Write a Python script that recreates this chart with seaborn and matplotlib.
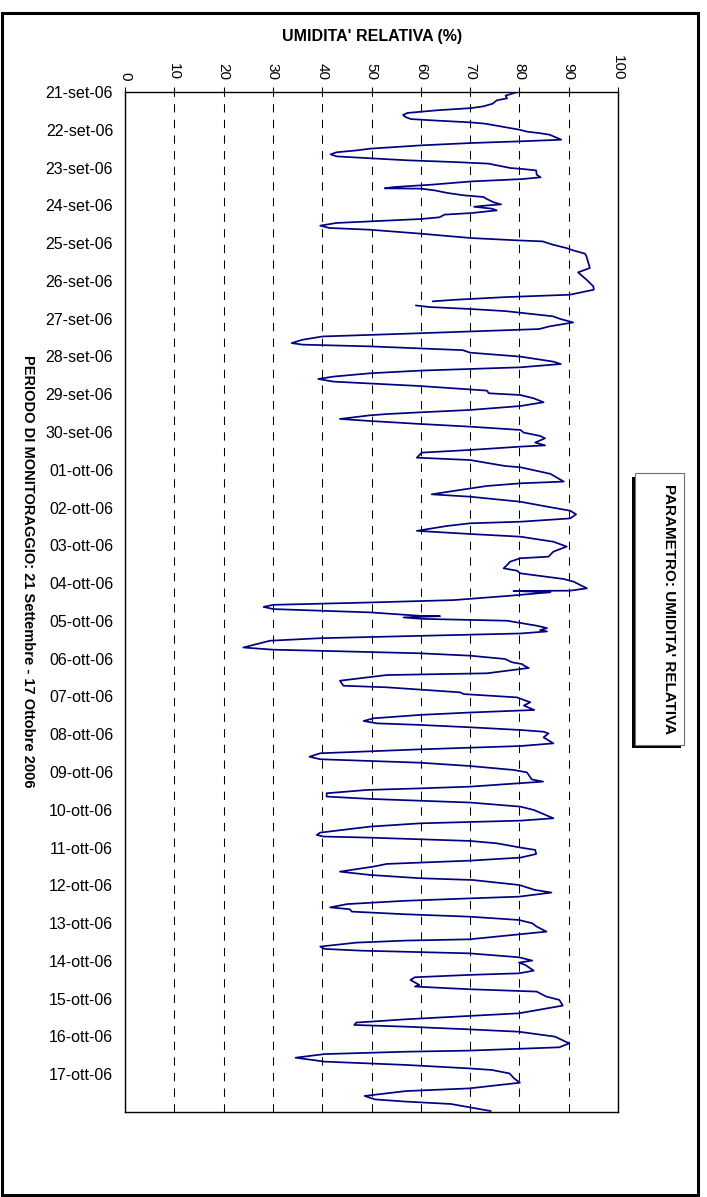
"""
Umidita' relativa - periodo di monitoraggio 21 set - 17 ott 2006.
Grafico ruotato: valori sull'asse orizzontale in alto, giorni in verticale.
"""

import matplotlib
matplotlib.use("Agg")
import matplotlib.pyplot as plt
from matplotlib.patches import Rectangle
import pandas as pd
import seaborn as sns

date_labels = [
    "21-set-06", "22-set-06", "23-set-06", "24-set-06", "25-set-06",
    "26-set-06", "27-set-06", "28-set-06", "29-set-06", "30-set-06",
    "01-ott-06", "02-ott-06", "03-ott-06", "04-ott-06", "05-ott-06",
    "06-ott-06", "07-ott-06", "08-ott-06", "09-ott-06", "10-ott-06",
    "11-ott-06", "12-ott-06", "13-ott-06", "14-ott-06", "15-ott-06",
    "16-ott-06", "17-ott-06",
]
x_ticks = [0, 10, 20, 30, 40, 50, 60, 70, 80, 90, 100]

# ore dall'inizio (21-set-06 00:00) e umidita' relativa
ore = [
    0.0, 2.3, 4.0, 5.3, 7.4, 9.1, 10.2, 11.6, 13.3, 14.6, 15.9, 17.2, 18.2,
    19.3, 20.1, 21.8, 23.9, 25.2, 26.1, 27.1, 30.3, 31.3, 32.4, 33.9, 36.0,
    37.1, 38.3, 39.6, 40.9, 42.1, 43.4, 44.5, 45.5, 48.3, 48.9, 49.8, 52.5,
    54.2, 55.3, 56.8, 58.9, 60.4, 61.2, 61.4, 62.5, 64.2, 65.7, 66.7, 68.0,
    70.1, 71.4, 72.0, 72.9, 74.1, 75.2, 76.9, 77.9, 79.6, 80.7, 82.2, 83.2,
    84.9, 86.4, 87.5, 90.0, 91.7, 92.8, 94.3, 94.9, 97.0, 99.1, 100.6, 102.7,
    104.4, 108.7, 111.8, 114.6, 119.2, 123.5, 125.6, 128.8, 130.3, 132.0,
    133.0,
    135.6, 136.6, 137.9, 139.2, 141.5, 142.5, 144.2, 146.4, 148.9, 150.6,
    152.1, 153.6, 155.3, 157.4, 159.5, 160.5, 161.6, 164.0, 165.6, 168.1,
    171.3, 172.8, 174.9, 177.0, 178.7, 180.8, 182.3, 184.0, 185.7, 186.8,
    189.7, 191.4, 192.5, 194.6, 197.1, 199.5, 202.0, 203.5, 204.6, 205.4,
    207.7, 209.0, 210.9, 212.6, 214.7, 216.4, 218.5, 220.0, 222.7, 224.5,
    225.3, 227.4, 229.1, 232.3, 233.8, 237.6, 238.4, 242.6, 247.5, 248.6,
    250.3, 252.8, 255.6, 257.1, 260.3, 263.4, 266.0, 268.3, 270.9, 273.0,
    274.0, 275.7, 278.8, 280.8, 282.5, 285.7, 288.8, 292.0, 295.2, 296.2,
    298.4, 300.5, 302.6, 304.1, 305.8, 309.4, 311.1, 315.3, 316.8, 317.0,
    317.8, 320.1, 322.8, 324.3, 325.8, 327.1, 328.5, 330.6, 332.8, 333.0,
    333.8, 334.7, 335.9, 339.1, 340.6, 341.9, 342.7, 344.0, 345.5, 347.0,
    348.6, 352.9, 354.3, 355.0, 356.6, 358.1, 360.2, 362.3, 363.4, 364.9,
    365.9, 369.3, 370.4, 374.0, 377.2, 378.2, 381.4, 382.5, 384.6, 387.7,
    389.8, 392.6, 394.2, 395.7, 397.9, 399.6, 401.1, 402.1, 403.6, 405.3,
    406.4, 407.5, 410.0, 413.8, 415.5, 417.6, 420.1, 422.3, 423.9, 426.1,
    428.2, 430.7, 432.2, 433.9, 436.7, 438.1, 441.3, 442.4, 443.4, 445.5,
    447.6, 449.1, 451.4, 454.0, 456.1, 461.4, 462.9, 464.6, 466.7, 470.5,
    472.0, 473.0, 473.7, 475.8, 477.3, 480.0, 481.5, 484.1, 486.4, 488.3,
    490.4, 492.1, 495.3, 497.4, 499.5, 500.6, 503.8, 506.9, 508.6, 511.2,
    512.3, 513.8, 515.9, 518.0, 519.2, 520.7, 522.4, 523.9, 526.0, 528.1,
    530.2, 533.4, 538.3, 539.1, 540.4, 542.9, 544.4, 545.5, 547.2, 549.7,
    551.8, 553.1, 554.6, 558.2, 559.9, 560.9, 562.4, 564.1, 567.3, 568.3,
    570.0, 571.5, 574.6, 576.8, 580.4, 585.3, 587.0, 589.1, 591.2, 592.7,
    593.8, 595.5, 597.0, 600.1, 604.4, 606.9, 609.0, 609.7, 611.2, 613.5,
    616.0, 618.1, 620.3, 621.3, 623.5, 626.6, 629.4, 633.0, 634.7, 637.8,
    640.0, 641.4, 642.9, 647.4,
]
umidita = [
    79.6, 77.2, 77.5, 75.4, 74.6, 72.7, 70.3, 63.4, 57.3, 56.4, 56.9, 58.0, 63.4,
    70.1, 73.0, 76.1, 79.9, 81.6, 84.0, 86.1, 88.5, 80.6, 70.3, 60.0, 49.7,
    47.0, 42.9, 41.7, 42.9, 49.7, 57.3, 66.9, 73.7, 78.2, 80.6, 83.4, 83.5,
    84.3, 80.6, 70.3, 62.1, 54.5, 52.7, 60.0, 62.8, 65.5, 68.9, 72.7, 73.4,
    74.8, 76.3, 73.7, 70.8, 74.4, 75.4, 70.3, 64.8, 63.8, 60.0, 49.7, 42.9,
    39.6, 41.5, 49.7, 60.0, 66.2, 70.3, 79.9, 84.7, 86.8, 89.5, 90.9, 93.3,
    93.6, 94.0, 94.3, 91.9, 93.6, 95.0, 95.1, 90.2, 77.2, 66.9,
    62.4,
    59.0, 61.7, 70.3, 77.2, 84.0, 86.8, 88.3, 90.9, 86.1, 84.0,
    70.3, 56.6, 40.1, 36.0, 33.8, 36.0, 49.7, 68.5, 70.0, 80.2,
    86.9, 88.4, 80.2, 59.9, 49.7, 42.3, 39.2, 42.3, 53.1, 59.9,
    73.4, 73.8, 80.2, 82.9, 84.9, 80.2, 70.0, 59.9, 53.1, 49.7,
    43.6, 49.7, 59.9, 70.0, 80.2, 80.9, 84.2, 85.2, 83.2, 85.2,
    80.2, 70.0, 60.2, 59.2, 70.0, 77.1, 80.2, 86.3, 89.0, 80.2,
    73.4, 68.0, 62.2, 70.0, 80.2, 85.6, 90.3, 91.5, 90.3, 80.2,
    70.0, 65.3, 59.2, 70.0, 80.2, 86.9, 89.6, 86.9, 85.9, 80.2,
    78.1, 77.5, 76.8, 79.5, 80.2, 89.0, 91.0, 93.7, 90.3, 78.8,
    86.3, 77.8, 66.6, 49.7, 30.1, 28.1, 30.1, 49.7, 59.9, 63.9,
    56.5, 60.2, 77.5, 83.6, 85.6, 84.2, 85.6, 80.2, 59.9, 39.6,
    29.4, 24.0, 30.1, 39.6, 59.9, 70.0, 77.1, 78.5, 80.5, 81.2,
    81.9, 73.4, 53.1, 43.6, 44.3, 53.1, 68.0, 68.7, 79.5, 82.2,
    80.9, 83.0, 70.0, 60.0, 50.4, 48.4, 51.1, 59.9, 70.0, 80.2,
    84.9, 85.9, 84.9, 86.9, 80.2, 59.9, 39.6, 37.4, 39.6, 59.9,
    70.0, 78.8, 81.5, 81.9, 82.5, 84.8, 70.0, 59.9, 49.1, 40.9,
    40.9, 49.7, 70.0, 80.2, 82.9, 86.9, 80.2, 59.9, 49.7, 39.6,
    38.9, 40.3, 49.7, 70.0, 75.4, 80.2, 83.2, 83.4, 80.2, 70.0,
    53.1, 50.4, 43.6, 49.7, 59.9, 70.5, 80.0, 83.1, 86.5, 79.9,
    69.8, 57.0, 45.1, 41.6, 45.6, 46.0, 57.0, 69.8, 79.9, 82.6,
    83.5, 85.5, 69.8, 57.0, 46.9, 39.6, 40.5, 47.9, 69.8, 79.9,
    82.6, 79.9, 81.2, 82.9, 79.9, 69.8, 58.8, 57.9, 59.7, 58.8,
    69.8, 83.5, 85.4, 88.1, 88.8, 79.9, 69.8, 57.0, 46.9, 46.5,
    57.0, 69.8, 79.9, 87.2, 90.1, 88.1, 69.8, 57.0, 40.5, 34.6,
    40.5, 57.0, 69.8, 74.4, 78.0, 78.9, 80.1, 69.8, 57.0, 48.6,
    50.7, 57.0, 66.1, 74.2,
]
# buco nei dati il 26-set (tra le ore 133 e 135.6)
ora_buco = 134.0

sns.set_style("white")
plt.rcParams["font.family"] = ["Liberation Sans", "DejaVu Sans"]
plt.rcParams["text.color"] = "black"

df = pd.DataFrame({"ore": ore, "umidita": umidita})
df["giorno"] = df["ore"] / 24.0
df["tratto"] = (df["ore"] > ora_buco).astype(int)

W, H = 707, 1197
fig = plt.figure(figsize=(W / 100, H / 100), dpi=100)
ax = fig.add_axes([125 / W, 1 - 1112 / H, 493 / W, 1020 / H])

sns.lineplot(
    data=df,
    x="umidita",
    y="giorno",
    units="tratto",
    estimator=None,
    sort=False,
    orient="y",
    color="#000080",
    linewidth=1.25,
    ax=ax,
)

ax.set_xlim(0, 100)
ax.set_ylim(27, 0)
ax.set_xlabel("")
ax.set_ylabel("")

ax.set_xticks(x_ticks)
ax.xaxis.tick_top()
ax.tick_params(axis="x", top=True, bottom=False, labeltop=True,
               labelbottom=False, length=3.6, width=0.8, pad=5,
               labelsize=11, labelrotation=270, colors="black")
ax.set_yticks(range(len(date_labels)))
ax.set_yticklabels(date_labels)
ax.tick_params(axis="y", length=0, pad=8.5, labelsize=11.5, colors="black")

ax.grid(axis="x", color="black", linestyle=(0, (8, 7)), linewidth=0.75)
for s in ax.spines.values():
    s.set_color("black")
    s.set_linewidth(1.0)

fig.text(372 / W, 1 - 37 / H, "UMIDITA' RELATIVA (%)", ha="center",
         va="center", fontweight="bold", fontsize=11.5, color="black")
fig.text(28 / W, 1 - 571 / H,
         "PERIODO DI MONITORAGGIO: 21 Settembre - 17 Ottobre 2006",
         rotation=270, ha="center", va="center", fontweight="bold",
         fontsize=10.5, color="black")

# riquadro laterale con ombra
fig.add_artist(Rectangle((632 / W, 1 - 748 / H), 49 / W, 271 / H,
                         transform=fig.transFigure, facecolor="black",
                         edgecolor="none"))
fig.add_artist(Rectangle((635 / W, 1 - 745 / H), 49 / W, 272 / H,
                         transform=fig.transFigure, facecolor="white",
                         edgecolor="#707070", linewidth=0.8))
fig.text(669 / W, 1 - 609 / H, "PARAMETRO: UMIDITA' RELATIVA",
         rotation=270, ha="center", va="center", fontweight="bold",
         fontsize=11, color="black")

# cornice esterna
fig.add_artist(Rectangle((1.5 / W, 2.5 / H), 696.5 / W, 1182 / H,
                         transform=fig.transFigure, fill=False,
                         edgecolor="black", linewidth=2.2))

fig.savefig("out.png", dpi=100)
plt.close(fig)
